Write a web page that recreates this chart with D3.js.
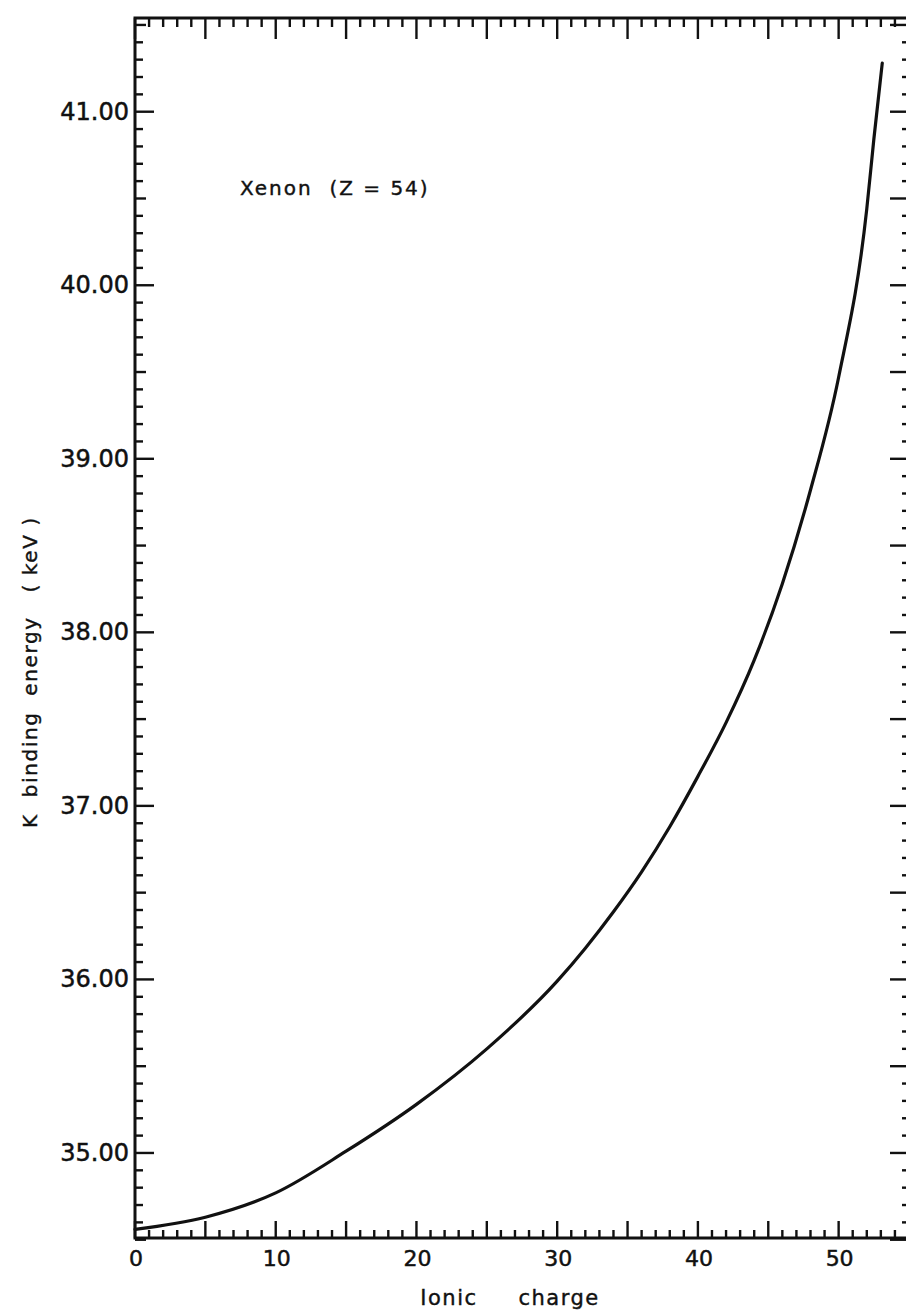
<!DOCTYPE html>
<html>
<head>
<meta charset="utf-8">
<script src="https://cdn.jsdelivr.net/npm/d3@7"></script>
<style>
  html, body { margin: 0; padding: 0; background: #fff; overflow: hidden; }
  svg { display: block; }
  text { font-family: "DejaVu Sans", sans-serif; fill: #111; }
</style>
</head>
<body>
<div id="chart"></div>
<script>
// ---- data ----
const ionicCharge = [0, 5, 10, 15, 20, 25, 30, 32, 34, 36, 38, 40, 42, 44, 46, 48, 50, 52, 52.5, 53.1];
const kBindingEnergy = [34.56, 34.63, 34.77, 35.01, 35.28, 35.60, 35.99, 36.18, 36.39, 36.62, 36.88, 37.17, 37.48, 37.84, 38.28, 38.82, 39.47, 40.44, 40.84, 41.28];
const xTickLabels = [0, 10, 20, 30, 40, 50];
const yTickLabels = [35, 36, 37, 38, 39, 40, 41];
const xDomain = [0, 55];
const yDomain = [34.51, 41.54];
const annotation = "Xenon  (Z = 54)";
const xTitle = "Ionic     charge";
const yTitle = "K  binding  energy   ( keV )";

(function () {
const W = 906, H = 1313;
const mLeft = 135, mRight = 909, mTop = 18, mBottom = 1238;

const svg = d3.select("#chart").append("svg").attr("width", W).attr("height", H);

const x = d3.scaleLinear().domain(xDomain).range([mLeft, mRight]);
const y = d3.scaleLinear().domain(yDomain).range([mBottom, mTop]);

const ink = "#111";

// frame
svg.append("rect")
  .attr("x", mLeft).attr("y", mTop)
  .attr("width", mRight - mLeft).attr("height", mBottom - mTop)
  .attr("fill", "none").attr("stroke", ink).attr("stroke-width", 3);

// x ticks (bottom: upward, top: downward)
const xTicksAll = d3.range(xDomain[0], xDomain[1] + 1, 1);
const gx = svg.append("g").attr("stroke", ink).attr("stroke-width", 2.4);
xTicksAll.forEach(v => {
  const major = v % 5 === 0;
  gx.append("line").attr("x1", x(v)).attr("x2", x(v))
    .attr("y1", mBottom).attr("y2", mBottom - (major ? 17 : 8));
  gx.append("line").attr("x1", x(v)).attr("x2", x(v))
    .attr("y1", mTop).attr("y2", mTop + (major ? 21 : 9));
});

// y ticks (left: rightward, right: leftward)
const yTicksAll = d3.range(345, 416, 1).map(v => v / 10);
const gy = svg.append("g").attr("stroke", ink).attr("stroke-width", 2.4);
yTicksAll.forEach(v => {
  const k = Math.round(v * 10);
  const isInt = k % 10 === 0;
  const isHalf = k % 5 === 0;
  const lenL = isInt ? 19 : (isHalf ? 11 : 8);
  const lenR = isHalf ? 19 : 7;
  gy.append("line").attr("x1", mLeft).attr("x2", mLeft + lenL)
    .attr("y1", y(v)).attr("y2", y(v));
  gy.append("line").attr("x1", mRight).attr("x2", mRight - lenR)
    .attr("y1", y(v)).attr("y2", y(v));
});

// y tick labels
svg.append("g").selectAll("text").data(yTickLabels).join("text")
  .attr("x", mLeft - 6).attr("y", d => y(d))
  .attr("text-anchor", "end").attr("dominant-baseline", "central")
  .attr("font-size", 24)
  .attr("stroke", ink).attr("stroke-width", 0.5)
  .text(d => d.toFixed(2));

// x tick labels
svg.append("g").selectAll("text").data(xTickLabels).join("text")
  .attr("x", d => x(d) + 1).attr("y", 1266)
  .attr("text-anchor", "middle")
  .attr("font-size", 22)
  .attr("stroke", ink).attr("stroke-width", 0.5)
  .text(d => d);

// axis titles
svg.append("text")
  .attr("x", 510).attr("y", 1305)
  .attr("text-anchor", "middle")
  .attr("font-size", 21).attr("letter-spacing", 1.5)
  .attr("stroke", ink).attr("stroke-width", 0.4)
  .style("white-space", "pre")
  .text(xTitle);

svg.append("text")
  .attr("transform", "translate(37,672) rotate(-90)")
  .attr("text-anchor", "middle")
  .attr("font-size", 20).attr("letter-spacing", 1.6)
  .attr("stroke", ink).attr("stroke-width", 0.4)
  .style("white-space", "pre")
  .text(yTitle);

// annotation
svg.append("text")
  .attr("x", 240).attr("y", 195)
  .attr("font-size", 20).attr("letter-spacing", 2)
  .attr("stroke", ink).attr("stroke-width", 0.4)
  .style("white-space", "pre")
  .text(annotation);

// curve
const pts = ionicCharge.map((q, i) => [q, kBindingEnergy[i]]);
svg.append("path")
  .datum(pts)
  .attr("fill", "none").attr("stroke", ink).attr("stroke-width", 3.2)
  .attr("stroke-linecap", "round")
  .attr("d", d3.line().x(d => x(d[0])).y(d => y(d[1])).curve(d3.curveMonotoneX));
})();
</script>
</body>
</html>
